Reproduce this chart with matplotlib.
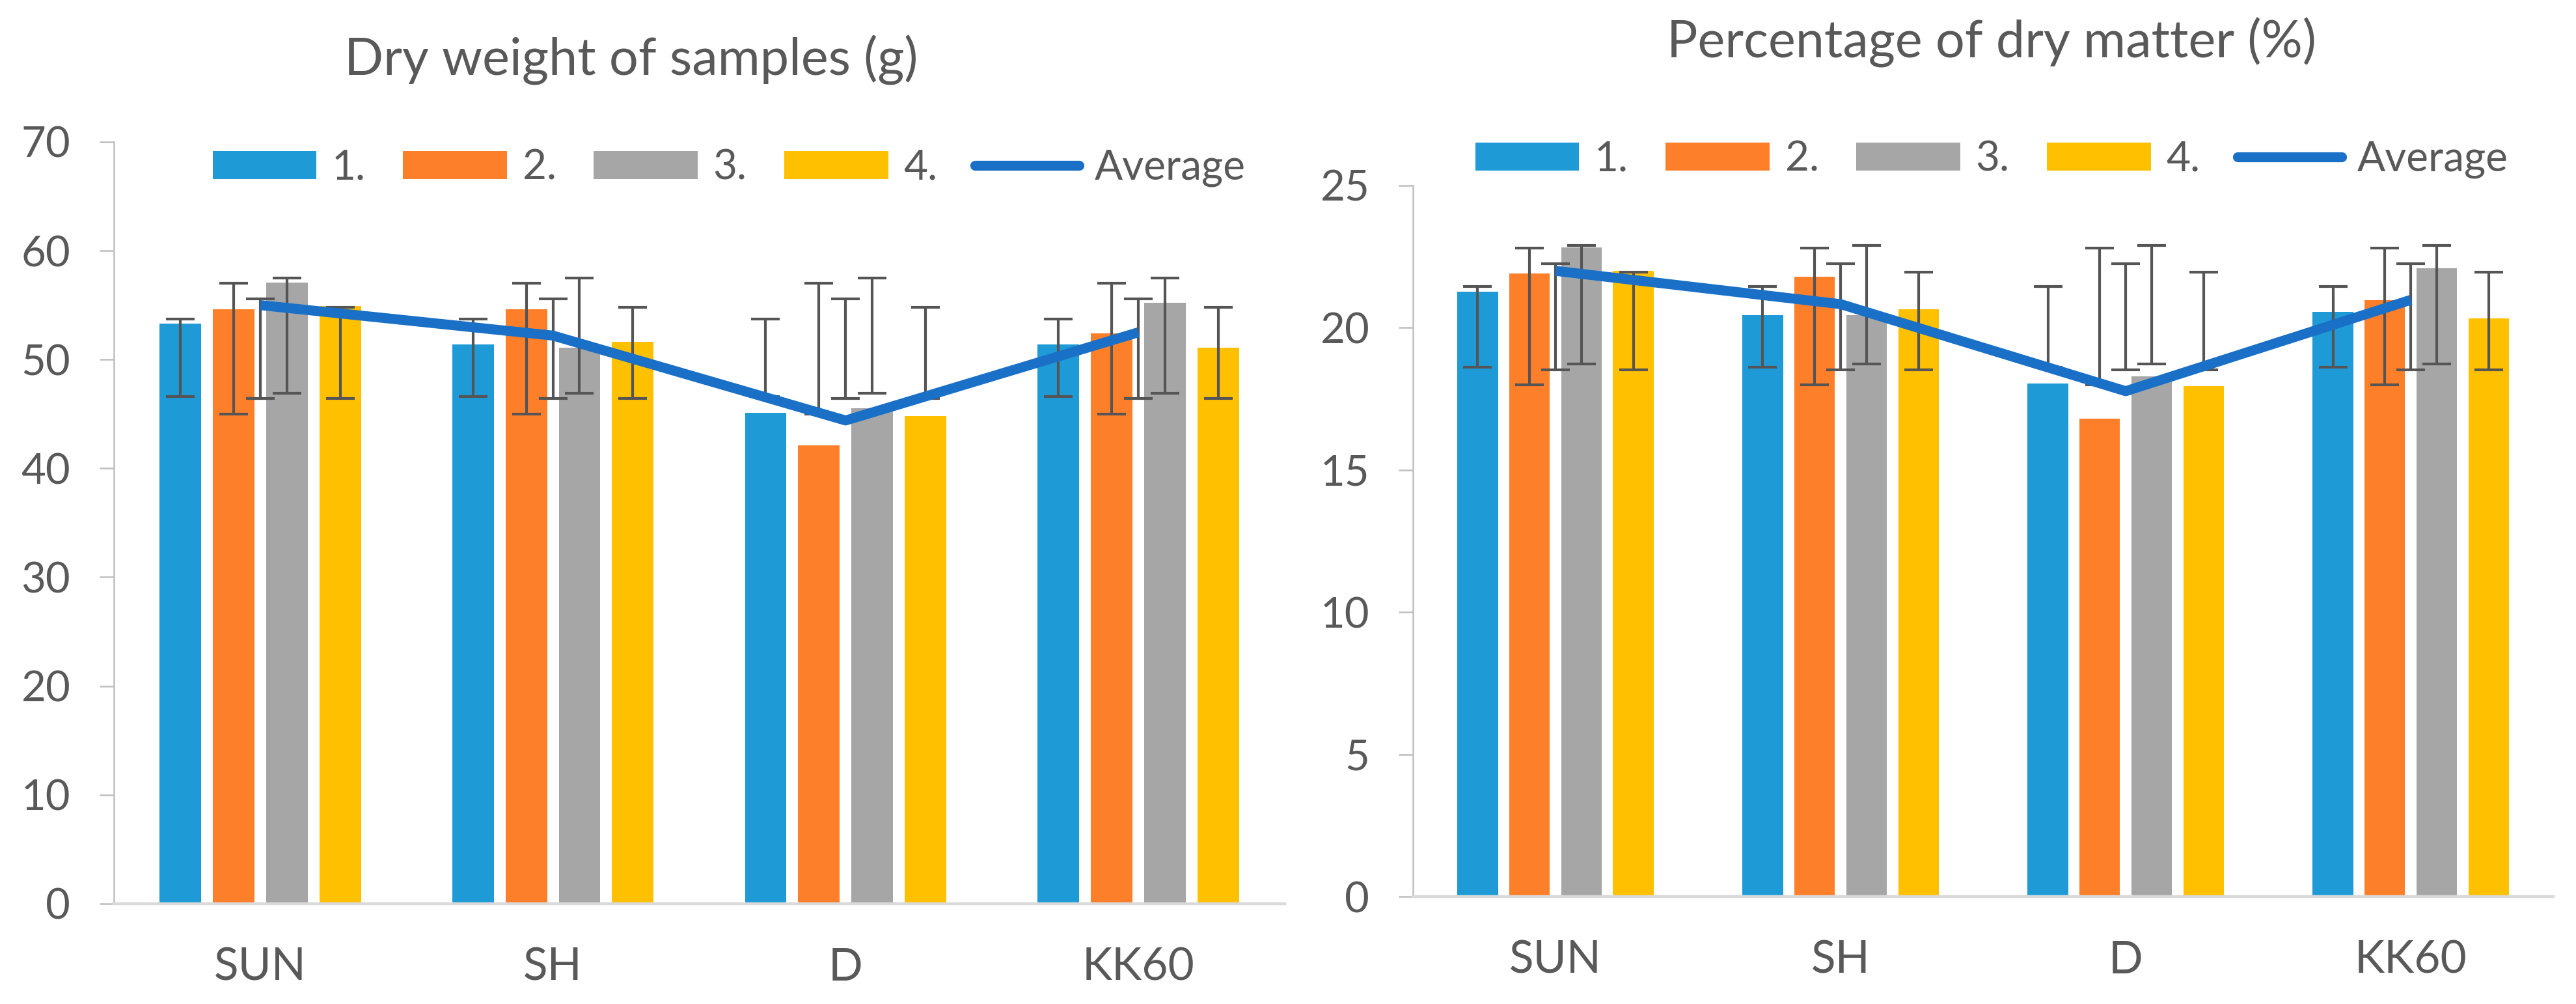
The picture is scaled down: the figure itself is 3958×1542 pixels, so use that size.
import numpy as np
import matplotlib.pyplot as plt
from matplotlib.patches import Patch
from matplotlib.lines import Line2D

plt.rcParams['font.family'] = ['Lato', 'DejaVu Sans']

categories = ["SUN", "SH", "D", "KK60"]
series_names = ["1.", "2.", "3.", "4."]

# Dry weight of samples (g)
weight_1 = [53.3, 51.4, 45.1, 51.4]
weight_2 = [54.6, 54.6, 42.1, 52.4]
weight_3 = [57.1, 51.1, 45.5, 55.2]
weight_4 = [54.9, 51.6, 44.8, 51.1]
weight_avg = [55.0, 52.2, 44.4, 52.5]
# error bar ranges (low, high) per series, identical in every group
weight_err_lo = [46.6, 45.0, 46.9, 46.4]
weight_err_hi = [53.7, 57.0, 57.5, 54.8]
weight_avg_err = [46.4, 55.6]

# Percentage of dry matter (%)
pct_1 = [21.27, 20.45, 18.05, 20.55]
pct_2 = [21.90, 21.79, 16.80, 20.96]
pct_3 = [22.83, 20.45, 18.30, 22.10]
pct_4 = [21.99, 20.64, 17.94, 20.33]
pct_avg = [22.0, 20.83, 17.77, 20.98]
pct_err_lo = [18.62, 18.00, 18.73, 18.51]
pct_err_hi = [21.44, 22.79, 22.89, 21.95]
pct_avg_err = [18.51, 22.26]

colors = ["#1E9BD7", "#FE7F2A", "#A6A6A6", "#FFC000"]
line_color = "#1A70C6"
text_color = "#595959"
err_color = "#555555"


def draw_panel(ax, series, avg, err_lo, err_hi, avg_err, ymax, step):
    x = np.arange(len(categories))
    width = 0.142
    pitch = 0.182
    for i, vals in enumerate(series):
        xs = x + (i - 1.5) * pitch
        ax.bar(xs, vals, width=width, color=colors[i], zorder=2)
        lo = np.full(len(x), err_lo[i])
        hi = np.full(len(x), err_hi[i])
        ax.errorbar(xs, (lo + hi) / 2, yerr=(hi - lo) / 2, fmt='none',
                    ecolor=err_color, elinewidth=3, capsize=16, capthick=3,
                    zorder=3)
    lo = np.full(len(x), avg_err[0])
    hi = np.full(len(x), avg_err[1])
    ax.errorbar(x, (lo + hi) / 2, yerr=(hi - lo) / 2, fmt='none',
                ecolor=err_color, elinewidth=3, capsize=16, capthick=3,
                zorder=3)
    ax.plot(x, avg, color=line_color, lw=11, solid_capstyle='butt',
            solid_joinstyle='round', zorder=4)

    ax.set_xlim(-0.5, len(categories) - 0.5)
    ax.set_ylim(0, ymax)
    ax.set_yticks(np.arange(0, ymax + 1, step))
    ax.set_xticks(x)
    ax.set_xticklabels(categories)
    for s in ["top", "right"]:
        ax.spines[s].set_visible(False)
    ax.spines["left"].set_color("#BFBFBF")
    ax.spines["left"].set_linewidth(1.8)
    ax.spines["bottom"].set_color("#D9D9D9")
    ax.spines["bottom"].set_linewidth(3.2)
    ax.tick_params(axis='y', length=16, width=1.8, color="#BFBFBF",
                   labelsize=47, labelcolor=text_color, pad=32)
    ax.tick_params(axis='x', length=0, labelsize=50, labelcolor=text_color,
                   pad=48)


def legend_handles():
    h = [Patch(facecolor=c, edgecolor='none') for c in colors]
    h.append(Line2D([], [], color=line_color, lw=11, solid_capstyle='round'))
    return h


fig = plt.figure(figsize=(39.58, 15.42), dpi=100)
ax1 = fig.add_axes([0.0442, 0.0999, 0.4545, 0.7588])
ax2 = fig.add_axes([0.5485, 0.1070, 0.4427, 0.7082])

draw_panel(ax1, [weight_1, weight_2, weight_3, weight_4], weight_avg,
           weight_err_lo, weight_err_hi, weight_avg_err, 70, 10)
draw_panel(ax2, [pct_1, pct_2, pct_3, pct_4], pct_avg,
           pct_err_lo, pct_err_hi, pct_avg_err, 25, 5)

labels = series_names + ["Average"]
for cx, cy in [(1120 / 3958, 1 - 258 / 1542), (3060 / 3958, 1 - 245 / 1542)]:
    fig.legend(legend_handles(), labels, loc='center', bbox_to_anchor=(cx, cy),
               ncol=5, frameon=False, fontsize=46, labelcolor=text_color,
               handlelength=2.5, handleheight=0.66, handletextpad=0.37,
               columnspacing=0.9)

fig.text(970 / 3958, 1 - 115 / 1542, "Dry weight of samples (g)",
         ha='center', va='baseline', fontsize=57, color=text_color)
fig.text(3060 / 3958, 1 - 88 / 1542, "Percentage of dry matter (%)",
         ha='center', va='baseline', fontsize=57, color=text_color)

fig.savefig("out.png", dpi=100, facecolor="white")
